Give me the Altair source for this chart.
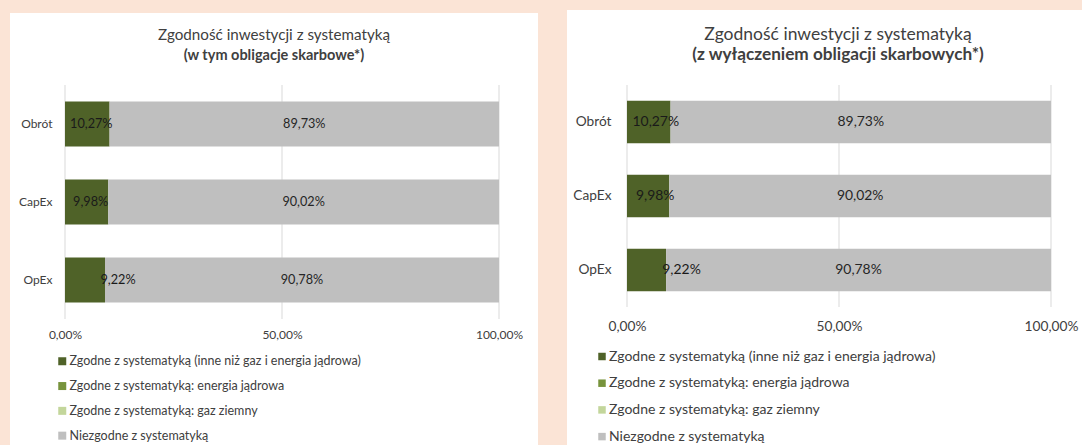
import altair as alt
import pandas as pd

categories = ["Obrót", "CapEx", "OpEx"]
series = [
    "Zgodne z systematyką (inne niż gaz i energia jądrowa)",
    "Zgodne z systematyką: energia jądrowa",
    "Zgodne z systematyką: gaz ziemny",
    "Niezgodne z systematyką",
]
colors = ["#4F6228", "#77933C", "#C3D69B", "#BFBFBF"]

# left panel: including treasury bonds
left_aligned = [10.27, 9.98, 9.22]
left_nuclear = [0.0, 0.0, 0.0]
left_gas = [0.0, 0.0, 0.0]
left_not = [89.73, 90.02, 90.78]

# right panel: excluding treasury bonds
right_aligned = [10.27, 9.98, 9.22]
right_nuclear = [0.0, 0.0, 0.0]
right_gas = [0.0, 0.0, 0.0]
right_not = [89.73, 90.02, 90.78]

tick_values = [0, 50, 100]

title_line1 = "Zgodność inwestycji z systematyką"
left_line2 = "(w tym obligacje skarbowe*)"
right_line2 = "(z wyłączeniem obligacji skarbowych*)"

FONT = "Lato"
TXT = "#404040"


def build_df(*cols):
    rows = []
    for s_idx, (name, vals) in enumerate(zip(series, cols)):
        for cat, v in zip(categories, vals):
            rows.append({"cat": cat, "series": name, "idx": s_idx, "value": v})
    return pd.DataFrame(rows)


def panel(df, line2, g):
    w, h = g["w"], g["h"]

    def xenc(field):
        return alt.X(
            field,
            scale=alt.Scale(domain=[0, 100], nice=False),
            axis=alt.Axis(
                title=None, values=tick_values, grid=False, domain=False, ticks=False,
                labelExpr="replace(format(datum.value, '.2f'), '.', ',') + '%'",
                labelFlush=False, labelOverlap=False, labelPadding=g["xpad"],
                labelFontSize=g["fs"], labelColor=TXT, labelFont=FONT, zindex=2,
            ),
        )

    yenc = alt.Y(
        "cat:N", sort=categories,
        scale=alt.Scale(paddingInner=0.425, paddingOuter=0.2125),
        axis=alt.Axis(title=None, domain=False, ticks=False, labelPadding=g["ypad"],
                      labelFontSize=g["fs"], labelColor=TXT, labelFont=FONT, zindex=2),
    )

    bg = alt.Chart(pd.DataFrame({"k": [0]})).mark_rect(color="white").encode(
        x=alt.value(g["bx1"]), x2=alt.value(w + g["bx2"]),
        y=alt.value(g["by1"]), y2=alt.value(h + g["by2"]),
    )

    titles = alt.Chart(pd.DataFrame({"k": [0]}))
    t1 = titles.mark_text(
        text=title_line1, font=FONT, fontSize=g["tfs"], color=TXT, baseline="middle",
        align="center",
    ).encode(x=alt.value(g["tx"]), y=alt.value(g["ty1"]))
    t2 = titles.mark_text(
        text=line2, font=FONT, fontSize=g["sfs"], fontWeight="bold", color=TXT,
        baseline="middle", align="center",
    ).encode(x=alt.value(g["tx"]), y=alt.value(g["ty2"]))

    grid = alt.Chart(pd.DataFrame({"t": tick_values})).mark_rule(
        color="#D9D9D9", strokeWidth=1
    ).encode(x=xenc("t:Q"), y=alt.value(0), y2=alt.value(h))

    base = alt.Chart(df).transform_stack(
        stack="value", groupby=["cat"], as_=["v0", "v1"], sort=[alt.SortField("idx")]
    ).transform_calculate(
        mid="(datum.v0 + datum.v1) / 2",
        label="replace(format(datum.value / 100, '.2%'), '.', ',')",
    )

    bars = base.mark_bar().encode(
        x=xenc("v0:Q"), x2="v1:Q", y=yenc,
        color=alt.Color(
            "series:N",
            scale=alt.Scale(domain=series, range=colors),
            sort=series,
            legend=alt.Legend(
                title=None, orient="none", legendX=g["lx"], legendY=g["ly"],
                direction="vertical", symbolType="square", symbolSize=g["ss"],
                symbolStrokeWidth=0, labelFontSize=g["lfs"], labelColor=TXT,
                labelFont=FONT, labelLimit=600, rowPadding=g["rp"], labelOffset=g["lo"],
                padding=0,
            ),
        ),
    )

    lab_green = base.transform_filter(
        "datum.value > 0 && datum.idx == 0 && datum.cat != 'OpEx'"
    ).mark_text(fontSize=g["dfs"], font=FONT, color="#1a1a1a", dx=g["gdx"]).encode(
        x=xenc("mid:Q"), y=yenc, text="label:N"
    )
    lab_green_op = base.transform_filter(
        "datum.value > 0 && datum.idx == 0 && datum.cat == 'OpEx'"
    ).mark_text(fontSize=g["dfs"], font=FONT, color="#1a1a1a", dx=g["odx"]).encode(
        x=xenc("mid:Q"), y=yenc, text="label:N"
    )
    lab_rest = base.transform_filter("datum.value > 0 && datum.idx > 0").mark_text(
        fontSize=g["dfs"], font=FONT, color="#262626"
    ).encode(x=xenc("mid:Q"), y=yenc, text="label:N")

    return alt.layer(bg, t1, t2, grid, bars, lab_green, lab_green_op, lab_rest).properties(
        width=w, height=h,
    )


left_geom = dict(w=434, h=234, bx1=-55, bx2=39, by1=-72, by2=129, fs=12, xpad=10,
                 ypad=13, lx=-9, ly=270, ss=64, lfs=12.5, rp=11.8, lo=1, dfs=12.7,
                 gdx=4, odx=33, tfs=15.2, sfs=14.5, tx=209, ty1=-50, ty2=-29)
right_geom = dict(w=424, h=222, bx1=-60, bx2=31, by1=-75, by2=138, fs=13.7, xpad=12,
                  ypad=16, lx=-32, ly=264.5, ss=56, lfs=14, rp=12.7, lo=0, dfs=13.9,
                  gdx=7, odx=35, tfs=17.5, sfs=17.2, tx=211, ty1=-50.4, ty2=-29.7)

left = panel(build_df(left_aligned, left_nuclear, left_gas, left_not), left_line2, left_geom)
right = panel(build_df(right_aligned, right_nuclear, right_gas, right_not), right_line2, right_geom)

chart = alt.hconcat(left, right, spacing=29).resolve_scale(
    color="independent", x="independent", y="independent"
).resolve_legend(color="independent").properties(
    padding={"left": 10, "top": 10, "right": 0, "bottom": 0},
    background="#FBE4D6",
).configure_view(strokeWidth=0)

chart.save("out.html", embed_options={"renderer": "svg", "actions": False})
